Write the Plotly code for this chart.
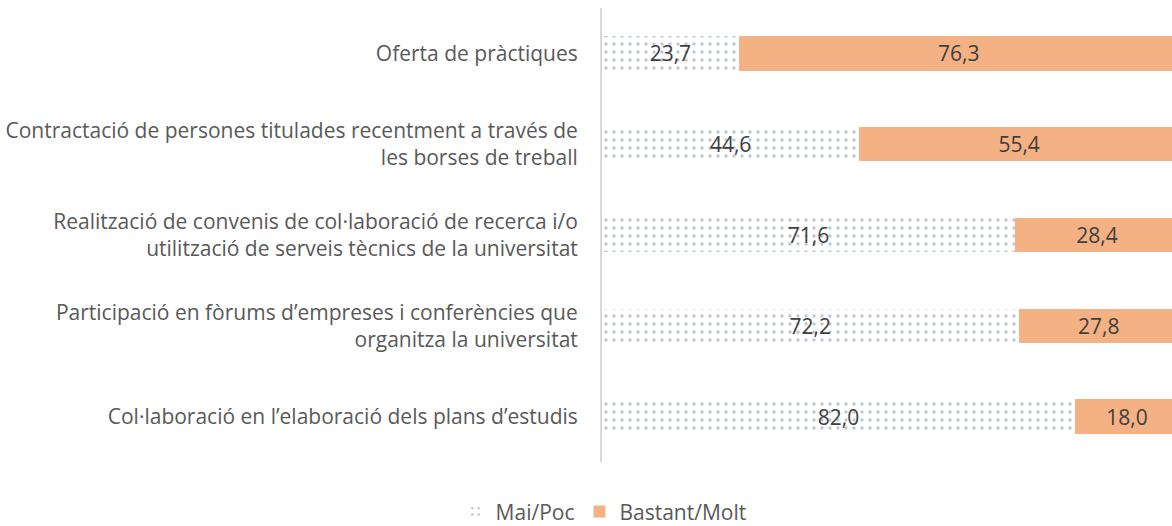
import plotly.graph_objects as go

categories = [
    "Oferta de pràctiques",
    "Contractació de persones titulades recentment a través de<br>les borses de treball",
    "Realització de convenis de col·laboració de recerca i/o<br>utilització de serveis tècnics de la universitat",
    "Participació en fòrums d’empreses i conferències que<br>organitza la universitat",
    "Col·laboració en l’elaboració dels plans d’estudis",
]
mai_poc = [23.7, 44.6, 71.6, 72.2, 82.0]
bastant_molt = [76.3, 55.4, 28.4, 27.8, 18.0]

def fmt(v):
    return f"{v:.1f}".replace(".", ",")

font_family = "'Open Sans', sans-serif"
fs = 21

fig = go.Figure()
fig.add_trace(go.Bar(
    y=categories, x=mai_poc, orientation="h", name="Mai/Poc",
    marker=dict(color="white", line=dict(width=0),
                pattern=dict(shape=".", fgcolor="#7a8cab", bgcolor="white", size=8, solidity=0.13)),
    text=[fmt(v) for v in mai_poc], textposition="inside", insidetextanchor="middle",
    textfont=dict(size=fs, color="#404040", family=font_family),
))
fig.add_trace(go.Bar(
    y=categories, x=bastant_molt, orientation="h", name="Bastant/Molt",
    marker=dict(color="#f4b183", line=dict(width=0)),
    text=[fmt(v) for v in bastant_molt], textposition="inside", insidetextanchor="middle",
    textfont=dict(size=fs, color="#404040", family=font_family),
))

fig.update_layout(
    barmode="stack",
    bargap=0.62,
    width=1172, height=526,
    margin=dict(l=602, r=0, t=8, b=64, autoexpand=False),
    plot_bgcolor="white", paper_bgcolor="white",
    font=dict(family=font_family, size=fs, color="#595959"),
    xaxis=dict(range=[0, 98.8], visible=False, showgrid=False, automargin=False),
    yaxis=dict(autorange="reversed", showline=True, linecolor="#d9d9d9", linewidth=2,
               ticks="", ticklabelstandoff=18, tickfont=dict(size=fs, color="#595959"),
               showgrid=False, automargin=False),
    legend=dict(orientation="h", xref="container", x=0.515, xanchor="center",
                yref="container", y=0.027, yanchor="middle",
                font=dict(size=fs, color="#595959"), traceorder="normal"),
    uniformtext=dict(mode=False),
)
fig.write_html("out.html", config={"displayModeBar": False},
               post_script="document.body.style.margin='0';document.body.style.overflow='hidden';")
